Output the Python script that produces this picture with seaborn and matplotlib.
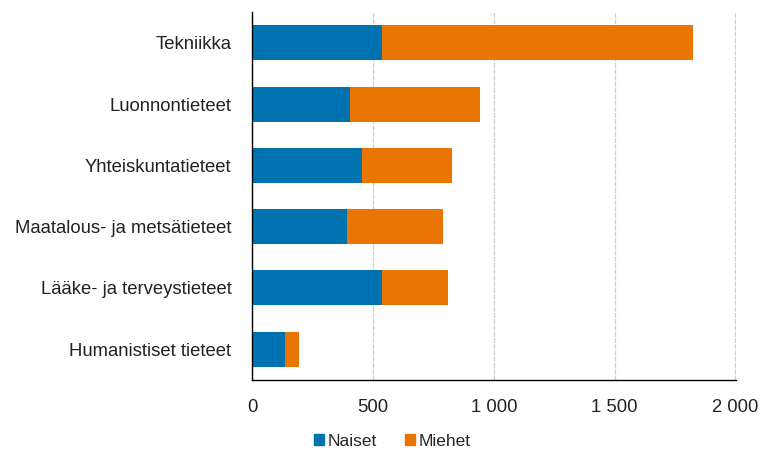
import matplotlib.pyplot as plt
import seaborn as sns
import pandas as pd
from matplotlib.patches import Patch

categories = ["Tekniikka", "Luonnontieteet", "Yhteiskuntatieteet",
              "Maatalous- ja metsätieteet", "Lääke- ja terveystieteet",
              "Humanistiset tieteet"]
naiset = [538, 405, 453, 394, 538, 134]
miehet = [1286, 536, 375, 395, 271, 61]
xticks = [0, 500, 1000, 1500, 2000]
xtick_labels = ["0", "500", "1 000", "1 500", "2 000"]

blue = "#0072B0"
orange = "#EA7503"

df = pd.DataFrame({"ala": categories, "Naiset": naiset, "Miehet": miehet})
df["total"] = df["Naiset"] + df["Miehet"]

sns.set_style("white")
plt.rcParams["font.family"] = ["Liberation Sans", "DejaVu Sans"]

fig = plt.figure(figsize=(7.62, 4.5), dpi=100)
ax = fig.add_axes([0.331, 0.156, 0.635, 0.817])

# stacked: full total in orange, naiset drawn over it in blue
sns.barplot(data=df, y="ala", x="total", color=orange, width=0.57,
            saturation=1, ax=ax, orient="h", linewidth=0)
sns.barplot(data=df, y="ala", x="Naiset", color=blue, width=0.57,
            saturation=1, ax=ax, orient="h", linewidth=0)

ax.set_xlim(0, 2003)
ax.set_ylim(5.5, -0.5)
ax.set_xticks(xticks)
ax.set_xticklabels(xtick_labels)
ax.set_xlabel("")
ax.set_ylabel("")
ax.tick_params(axis="both", labelsize=13.3, colors="#222222", length=0)
ax.tick_params(axis="y", pad=15)
ax.tick_params(axis="x", pad=14)

ax.grid(axis="x", color="#cfcfcf", linewidth=0.9, linestyle=(0, (4, 1)))
ax.set_axisbelow(True)
for s in ["top", "right"]:
    ax.spines[s].set_visible(False)
for s in ["left", "bottom"]:
    ax.spines[s].set_color("#000000")
    ax.spines[s].set_linewidth(1.0)

handles = [Patch(color=blue, label="Naiset"), Patch(color=orange, label="Miehet")]
fig.legend(handles=handles, loc="center", bbox_to_anchor=(0.515, 0.02),
           ncol=2, frameon=False, fontsize=12.5, handlelength=0.6,
           handleheight=0.6, handletextpad=0.2, columnspacing=1.6)

fig.savefig("out.png", dpi=100)
